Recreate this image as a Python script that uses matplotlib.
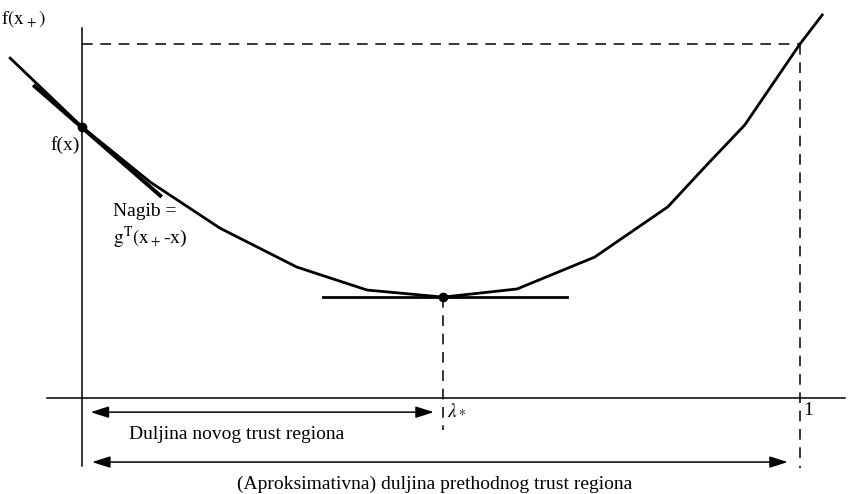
import numpy as np
import matplotlib.pyplot as plt

# curve f(x + lam*(x_+ - x)) (lam on x, f scaled so f(x_+) = 1)
lam = [-0.100, 0.0, 0.095, 0.192, 0.299, 0.397, 0.503, 0.606, 0.714, 0.816, 0.870, 0.923, 1.0, 1.031]
fval = [0.960, 0.766, 0.610, 0.480, 0.370, 0.305, 0.285, 0.308, 0.398, 0.540, 0.658, 0.771, 1.0, 1.082]

# tangent at f(x) and at the minimum
tan_lam = [-0.068, 0.111]
tan_f = [0.884, 0.568]
flat_lam = [0.336, 0.676]
lam_star = 0.503
f_min = 0.285
f_x = 0.766
f_xp = 1.0

plt.rcParams['font.family'] = ['Liberation Serif', 'DejaVu Serif']
fig = plt.figure(figsize=(8.48, 4.94), dpi=100)
ax = fig.add_axes([0, 0, 1, 1])
ax.set_xlim(-0.1142, 1.0669)
ax.set_ylim(-0.2712, 1.1243)
ax.axis('off')

# axes lines
ax.plot([-0.049, 1.063], [0, 0], color='black', lw=1.1)
ax.plot([0, 0], [-0.192, 1.045], color='black', lw=1.1)

# dashed guides
ax.plot([0, 1.0], [f_xp, f_xp], color='black', lw=1.1, dashes=(7, 5))
ax.plot([1.0, 1.0], [f_xp, -0.198], color='black', lw=1.1, dashes=(7, 5))
ax.plot([lam_star, lam_star], [f_min, -0.090], color='black', lw=1.1, dashes=(7, 5))

# curve
ax.plot(lam, fval, color='black', lw=2.0, solid_joinstyle='round')
ax.plot(tan_lam, tan_f, color='black', lw=2.8, solid_capstyle='butt')
ax.plot(flat_lam, [f_min, f_min], color='black', lw=2.0)
ax.plot([0, lam_star], [f_x, f_min], 'o', color='black', ms=6, ls='none')

# double arrows
arrow_kw = dict(arrowstyle='<|-|>,head_length=1.1,head_width=0.35', color='black', lw=1.1,
                shrinkA=0, shrinkB=0)
ax.annotate('', xy=(0.490, -0.040), xytext=(0.012, -0.040), arrowprops=arrow_kw)
ax.annotate('', xy=(0.983, -0.181), xytext=(0.014, -0.181), arrowprops=arrow_kw)

fs = 14
mk = dict(fontsize=fs, math_fontfamily='stix')
ax.text(0.066, -0.102, 'Duljina novog trust regiona', fontsize=fs, ha='left', va='center')
ax.text(0.491, -0.243, '(Aproksimativna) duljina prethodnog trust regiona', fontsize=fs,
        ha='center', va='center')
ax.text(lam_star + 0.006, -0.036, r'$\lambda_*$', ha='left', va='center', **mk)
ax.text(1.005, -0.034, '1', fontsize=fs, ha='left', va='center')
ax.text(-0.113, 1.07, r'$\mathrm{f(x_+)}$', ha='left', va='center', **mk)
ax.text(-0.044, 0.715, 'f(x)', fontsize=fs, ha='left', va='center')
ax.text(0.043, 0.527, 'Nagib =', fontsize=fs, ha='left', va='center')
ax.text(0.043, 0.455, r'$\mathrm{g^T(x_+}$-x)', ha='left', va='center', **mk)

fig.savefig('out.png', dpi=100)
